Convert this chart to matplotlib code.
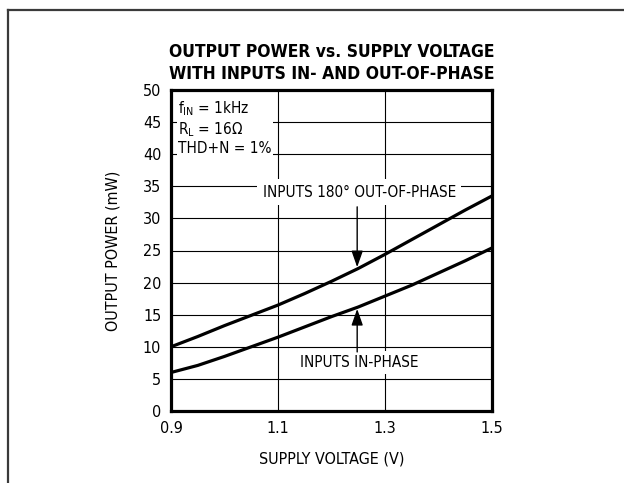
import matplotlib
matplotlib.use("Agg")
import matplotlib.pyplot as plt
from matplotlib.lines import Line2D

# supply voltage (V) and output power (mW)
voltage = [0.9, 0.95, 1.0, 1.05, 1.1, 1.15, 1.2, 1.25, 1.3, 1.35, 1.4, 1.45, 1.5]
out_of_phase = [10.0, 11.6, 13.3, 14.9, 16.5, 18.3, 20.2, 22.2, 24.4, 26.7, 29.0, 31.3, 33.5]
in_phase = [6.0, 7.1, 8.5, 10.0, 11.5, 13.1, 14.7, 16.2, 17.9, 19.6, 21.5, 23.4, 25.4]

x_ticks = [0.9, 1.1, 1.3, 1.5]
y_ticks = [0, 5, 10, 15, 20, 25, 30, 35, 40, 45, 50]

plt.rcParams["font.family"] = ["DejaVu Sans"]
plt.rcParams["font.stretch"] = "condensed"

W, H = 624, 483
fig = plt.figure(figsize=(W / 100, H / 100), dpi=100)
# panel frame: only the top and left edges show in the crop
fig.add_artist(Line2D([8 / W, 1.0], [1 - 9.5 / H, 1 - 9.5 / H], transform=fig.transFigure,
                      color="#3a3a3a", lw=1.6))
fig.add_artist(Line2D([8 / W, 8 / W], [0.0, 1 - 9.5 / H], transform=fig.transFigure,
                      color="#3a3a3a", lw=1.6))

ax = fig.add_axes([171 / W, 1 - 411 / H, 321 / W, 321 / H])
ax.set_xlim(0.9, 1.5)
ax.set_ylim(0, 50)
ax.set_xticks(x_ticks)
ax.set_xticklabels([f"{v:.1f}" for v in x_ticks])
ax.set_yticks(y_ticks)
ax.tick_params(length=0, labelsize=11.5, pad=7)
ax.grid(True, color="black", lw=0.8)
ax.set_axisbelow(True)
for s in ax.spines.values():
    s.set_linewidth(2.3)

ax.plot(voltage, out_of_phase, color="black", lw=2.3)
ax.plot(voltage, in_phase, color="black", lw=2.3)

ax.set_xlabel("SUPPLY VOLTAGE (V)", fontsize=11.5, labelpad=11)
ax.set_ylabel("OUTPUT POWER (mW)", fontsize=11.5, labelpad=16)
ax.set_title("OUTPUT POWER vs. SUPPLY VOLTAGE\nWITH INPUTS IN- AND OUT-OF-PHASE",
             fontsize=12.5, fontweight="bold", linespacing=1.25, pad=8)

ax.text(0.913, 44.1, "f$_{\\rm IN}$ = 1kHz\nR$_{\\rm L}$ = 16\u03a9\nTHD+N = 1%",
        fontsize=11, va="center", linespacing=1.15,
        bbox=dict(facecolor="white", edgecolor="none", pad=1))

ax.text(1.252, 34.1, "INPUTS 180\u00b0 OUT-OF-PHASE", fontsize=11, ha="center",
        va="center", bbox=dict(facecolor="white", edgecolor="none", pad=4))
ax.text(1.252, 7.6, "INPUTS IN-PHASE", fontsize=11, ha="center", va="center",
        bbox=dict(facecolor="white", edgecolor="none", pad=3))

arrow = dict(arrowstyle="-|>,head_length=1.0,head_width=0.35", color="black", lw=1.0,
             shrinkA=0, shrinkB=0)
ax.annotate("", xy=(1.248, 22.4), xytext=(1.248, 31.8), arrowprops=arrow)
ax.annotate("", xy=(1.248, 15.9), xytext=(1.248, 9.2), arrowprops=arrow)

fig.savefig("out.png", dpi=100)
